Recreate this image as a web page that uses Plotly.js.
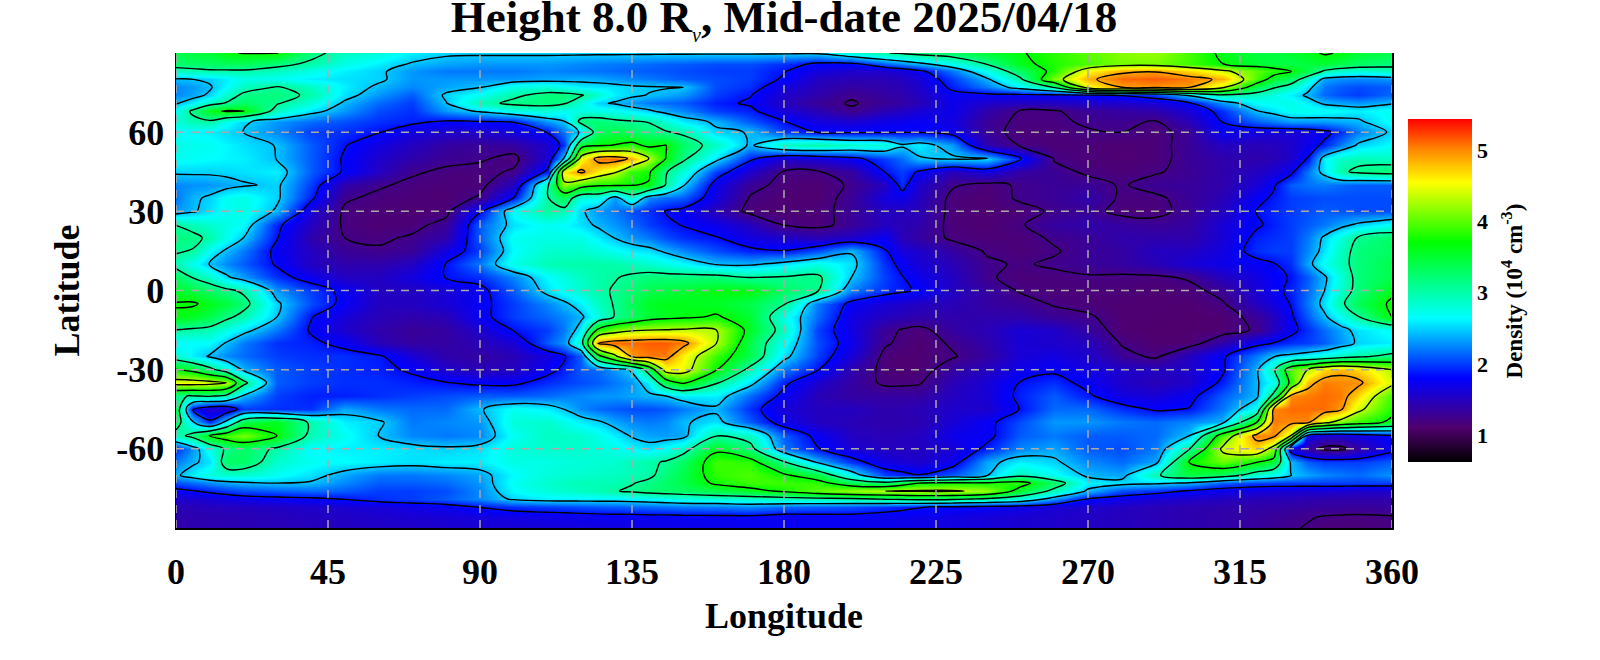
<!DOCTYPE html>
<html><head><meta charset="utf-8">
<script src="https://cdn.plot.ly/plotly-3.0.1.min.js"></script>
<style>html,body{margin:0;padding:0;background:#fff}#c{width:1600px;height:660px}</style></head>
<body><div id="c"></div>
<script>
const longitudes = [0,10,20,30,40,50,60,70,80,90,100,110,120,130,140,150,160,170,180,190,200,210,220,230,240,250,260,270,280,290,300,310,320,330,340,350,360];
const latitudes = [90,86,83,80,77,74,71,68,64,60,55,50,45,40,35,30,25,20,15,10,5,0,-5,-10,-15,-20,-25,-30,-35,-40,-45,-50,-55,-60,-65,-70,-73,-76,-79,-82,-86,-90];
const density = [
[3.4,3.5,3.7,3.7,3.2,2.9,2.8,2.6,2.5,2.5, 2.5,2.5,2.5,2.5,2.5,2.5,2.5,2.5,2.5,2.5, 2.8,3.05,3.2,3.3,3.5,3.65,3.85,4.0,4.15,4.2, 3.95,3.6,3.45,3.5,3.72,3.5,3.4],
[3.25,3.3,3.35,3.2,3.0,2.75,2.6,2.43,2.35,2.3, 2.3,2.3,2.25,2.2,2.15,2.1,2.05,2.05,1.95,1.8, 1.8,2.1,2.4,2.7,3.1,3.6,3.8,3.95,4.1,4.1, 3.9,3.68,3.5,3.4,3.5,3.3,3.2],
[2.9,3.0,3.0,2.9,2.75,2.6,2.5,2.3,2.2,2.2, 2.2,2.25,2.2,2.15,2.1,2.05,2.0,2.0,1.85,1.65, 1.55,1.55,1.75,2.2,2.7,3.3,3.8,4.55,4.85,4.9, 4.7,4.4,4.0,3.7,3.0,2.8,2.9],
[2.42,2.5,2.75,2.7,2.6,2.55,2.5,2.3,2.3,2.3, 2.3,2.35,2.38,2.3,2.2,2.1,2.05,2.0,1.8,1.5, 1.45,1.45,1.6,2.0,2.4,3.0,4.1,4.85,5.1,5.15, 5.05,4.85,3.95,3.3,2.35,2.25,2.3],
[2.25,2.42,2.9,3.1,2.9,2.6,2.4,2.25,2.35,2.44, 2.75,2.8,2.6,2.55,2.48,2.46,2.05,1.95,1.65,1.45, 1.35,1.4,1.55,1.9,2.2,2.6,3.1,4.5,4.92,4.95, 4.92,4.35,3.4,2.9,2.2,2.05,2.1],
[2.25,2.5,3.15,3.2,3.0,2.55,2.3,2.1,2.5,2.7, 3.0,3.2,3.1,2.6,2.44,2.3,2.0,1.85,1.55,1.4, 1.25,1.35,1.5,1.75,1.75,1.75,1.75,1.8,1.85,2.0, 2.5,3.0,2.9,2.6,2.15,2.0,2.15],
[2.42,2.9,3.3,3.1,2.8,2.4,2.15,2.0,2.44,2.95, 3.15,3.2,2.8,2.42,2.2,2.1,1.9,1.8,1.5,1.3, 1.2,1.3,1.45,1.7,1.55,1.5,1.5,1.55,1.55,1.6, 1.8,2.3,2.65,2.75,2.4,2.3,2.42],
[2.7,3.6,3.7,2.9,2.55,2.3,2.05,1.95,2.3,2.5, 2.75,2.8,2.75,2.7,2.5,2.25,2.0,1.9,1.6,1.45, 1.25,1.45,1.6,1.7,1.4,1.2,1.2,1.3,1.35,1.4, 1.6,1.95,2.44,2.7,2.7,2.6,2.7],
[2.8,3.0,2.5,2.3,2.15,2.05,1.95,1.9,1.8,1.82, 1.85,2.3,3.2,3.15,3.05,2.6,2.4,2.1,1.85,1.65, 1.6,1.7,1.75,1.65,1.3,1.18,1.18,1.25,1.27,1.2, 1.45,1.85,2.1,2.3,2.3,2.4,2.7],
[2.65,2.6,2.45,2.25,2.0,1.95,1.85,1.65,1.55,1.55, 1.65,1.85,2.5,3.4,3.2,3.0,2.5,2.44,2.0,1.82, 1.8,1.8,1.82,1.7,1.3,1.15,1.15,1.2,1.22,1.15, 1.3,1.75,1.65,1.6,1.75,2.2,2.5],
[2.75,2.7,2.55,2.44,2.1,1.85,1.65,1.5,1.35,1.3, 1.35,1.55,3.5,3.7,3.6,3.3,2.9,2.4,2.9,3.0, 2.85,2.8,2.6,2.3,1.4,1.2,1.15,1.15,1.12,1.15, 1.3,1.5,1.45,1.55,1.9,2.5,2.65],
[2.7,2.65,2.6,2.44,2.1,1.8,1.55,1.4,1.28,1.25, 1.15,1.6,4.5,5.1,4.3,3.15,2.55,1.9,1.55,1.6, 1.75,2.0,2.42,2.5,2.5,1.9,1.2,1.15,1.12,1.15, 1.3,1.4,1.4,1.55,2.6,2.95,2.9],
[2.5,2.5,2.55,2.6,2.1,1.8,1.5,1.25,1.18,1.15, 1.25,1.9,5.0,4.35,3.75,2.8,2.0,1.55,1.2,1.2, 1.35,1.85,1.8,1.45,1.65,1.35,1.3,1.18,1.15,1.2, 1.28,1.4,1.5,1.75,2.55,3.15,3.25],
[2.25,2.3,2.42,2.5,2.0,1.4,1.25,1.17,1.15,1.15, 1.5,3.0,3.9,3.75,3.65,2.5,1.7,1.3,1.15,1.12, 1.25,1.5,1.55,1.25,1.15,1.25,1.3,1.3,1.2,1.3, 1.32,1.4,1.6,2.1,2.2,2.1,2.1],
[2.2,2.5,2.75,2.5,1.9,1.25,1.17,1.15,1.12,1.25, 1.85,3.05,2.75,2.3,2.25,2.1,1.65,1.2,1.12,1.12, 1.3,1.65,1.5,1.15,1.12,1.25,1.3,1.4,1.18,1.18, 1.3,1.45,1.75,2.0,2.05,2.05,2.05],
[2.3,2.55,2.75,2.4,1.6,1.18,1.15,1.12,1.15,1.8, 2.7,3.05,2.5,2.2,1.95,1.75,1.45,1.15,1.12,1.15, 1.3,1.5,1.45,1.15,1.12,1.15,1.25,1.3,1.15,1.15, 1.3,1.5,1.85,2.0,2.1,2.05,2.05],
[3.06,2.85,2.65,1.9,1.5,1.18,1.13,1.15,1.3,2.1, 2.55,2.7,2.55,2.3,2.0,1.82,1.7,1.5,1.2,1.15, 1.3,1.5,1.4,1.15,1.12,1.2,1.35,1.4,1.35,1.3, 1.35,1.6,1.8,2.0,2.2,2.5,2.7],
[3.2,3.0,2.45,1.85,1.4,1.22,1.18,1.25,1.4,2.1, 2.7,2.75,2.75,2.44,2.2,1.95,1.85,1.65,1.55,1.45, 1.55,1.75,1.35,1.18,1.15,1.15,1.25,1.3,1.4,1.4, 1.4,1.6,1.9,2.0,2.5,3.1,3.3],
[3.1,2.65,2.2,1.75,1.5,1.3,1.25,1.3,1.65,2.0, 2.65,2.85,2.85,2.7,2.55,2.25,2.05,1.9,1.85,2.05, 2.42,1.85,1.55,1.35,1.2,1.15,1.2,1.3,1.35,1.5, 1.5,1.65,1.95,2.0,2.55,3.2,3.3],
[2.95,2.44,2.1,1.8,1.5,1.4,1.4,1.5,1.85,2.2, 2.75,2.95,3.0,3.0,2.85,2.65,2.42,2.4,2.55,2.75, 2.55,1.95,1.6,1.45,1.25,1.2,1.25,1.3,1.35,1.45, 1.6,1.7,1.75,1.95,2.7,3.2,3.4],
[3.3,2.85,2.3,1.95,1.7,1.5,1.5,1.65,1.85,1.95, 2.25,2.65,2.9,3.05,3.2,3.2,3.2,3.05,3.1,3.15, 2.45,2.0,1.7,1.5,1.25,1.15,1.17,1.2,1.18,1.18, 1.25,1.5,1.65,1.85,2.4,3.2,3.4],
[3.55,3.3,3.0,2.3,2.0,1.75,1.5,1.5,1.6,1.75, 2.1,2.55,2.85,3.1,3.4,3.5,3.65,3.65,3.3,3.1, 2.2,1.95,1.8,1.5,1.35,1.2,1.15,1.15,1.15,1.12, 1.15,1.3,1.6,1.9,2.45,3.2,3.6],
[3.7,3.6,3.2,2.5,2.05,1.75,1.5,1.5,1.6,1.75, 2.0,2.25,2.6,3.1,3.55,3.6,3.55,3.4,3.1,2.2, 1.75,1.6,1.5,1.45,1.35,1.3,1.2,1.15,1.12,1.12, 1.12,1.2,1.5,1.85,2.55,3.35,3.75],
[3.65,3.4,2.95,2.45,1.85,1.6,1.45,1.4,1.45,1.75, 2.0,2.15,2.4,3.1,3.5,3.62,3.72,3.5,2.75,2.15, 1.65,1.5,1.4,1.4,1.4,1.4,1.3,1.25,1.12,1.12, 1.1,1.12,1.3,1.78,2.4,3.05,3.7],
[3.05,2.95,2.55,2.2,1.8,1.55,1.4,1.3,1.35,1.55, 1.85,2.0,2.6,4.1,4.3,4.35,4.3,3.55,2.9,2.0, 1.65,1.3,1.15,1.35,1.45,1.6,1.55,1.35,1.12,1.1, 1.1,1.12,1.25,1.75,2.15,2.55,2.7],
[2.65,2.65,2.2,1.95,1.9,1.75,1.45,1.35,1.35,1.45, 1.6,2.1,2.9,5.1,5.15,5.05,4.3,3.4,2.7,2.05, 1.7,1.25,1.12,1.25,1.4,1.6,1.55,1.5,1.2,1.12, 1.12,1.4,1.75,1.95,2.1,2.5,2.6],
[2.85,2.42,2.15,2.0,1.95,1.95,1.88,1.6,1.4,1.35, 1.45,1.65,2.1,4.2,5.05,4.6,3.9,3.4,2.55,2.0, 1.6,1.15,1.12,1.2,1.35,1.6,1.65,1.55,1.3,1.18, 1.5,1.8,2.2,2.55,2.75,3.0,3.2],
[3.7,3.2,2.4,2.1,2.0,1.95,1.9,1.8,1.55,1.45, 1.5,1.75,2.1,2.3,3.3,4.5,3.7,2.95,2.2,1.85, 1.4,1.15,1.12,1.35,1.5,1.7,1.78,1.65,1.55,1.5, 1.55,1.8,2.4,4.0,4.7,4.7,4.3],
[4.5,4.45,3.2,2.1,2.0,1.95,1.95,1.9,1.85,1.78, 1.78,1.95,2.05,2.2,2.6,3.75,3.1,2.55,1.9,1.55, 1.35,1.18,1.2,1.45,1.6,1.85,1.95,1.75,1.55,1.45, 1.55,1.9,2.42,3.8,5.05,5.0,4.4],
[3.1,3.1,2.4,2.0,1.9,1.9,1.95,2.0,2.05,2.1, 2.1,2.15,2.25,2.3,2.4,2.6,2.6,2.15,1.75,1.45, 1.35,1.35,1.35,1.5,1.6,1.9,2.1,1.88,1.65,1.6, 1.75,2.1,2.4,5.0,5.1,4.7,3.9],
[3.4,1.55,2.0,1.95,1.95,2.35,2.2,2.15,2.15,2.42, 2.7,2.6,2.25,2.1,2.05,2.2,2.4,1.95,1.6,1.5, 1.5,1.4,1.45,1.55,1.55,1.85,2.15,2.15,1.95,1.8, 1.85,2.2,2.7,5.1,5.1,4.4,3.8],
[3.3,1.9,3.4,3.6,3.0,2.6,2.5,2.2,2.25,2.3, 2.8,2.85,2.6,2.35,2.2,2.42,2.55,2.1,1.7,1.5, 1.45,1.4,1.42,1.6,1.75,2.05,2.3,2.3,2.2,2.15, 2.25,2.4,3.7,5.0,4.4,3.9,3.6],
[2.9,3.7,4.1,3.68,2.95,2.7,2.45,2.25,2.2,2.25, 2.7,2.9,2.85,2.6,2.35,2.35,3.05,2.9,2.1,1.75, 1.5,1.45,1.5,1.7,1.75,2.1,2.2,2.1,2.1,2.15, 2.45,3.95,5.05,4.3,1.55,1.65,1.8],
[1.95,2.75,3.3,3.0,2.65,2.6,2.6,2.55,2.5,2.55, 2.8,2.85,2.85,2.75,2.55,2.9,3.6,3.2,2.2,1.85, 1.6,1.5,1.5,1.6,1.9,2.25,2.35,2.1,2.05,2.2, 3.05,4.4,4.7,1.6,1.15,1.35,1.75],
[2.2,2.55,3.3,2.85,2.7,2.65,2.6,2.55,2.6,2.6, 2.75,2.75,2.8,2.85,3.0,3.3,3.9,3.85,3.1,2.4, 1.95,1.65,1.55,1.7,2.35,2.6,2.5,2.25,2.15,2.35, 3.7,4.05,3.7,2.42,2.0,2.0,2.1],
[2.4,2.8,2.85,2.7,2.55,2.35,2.2,2.2,2.25,2.35, 2.65,2.8,2.85,2.9,3.0,3.4,3.85,3.95,3.75,3.4, 2.65,2.0,1.85,2.1,2.42,2.95,2.7,2.4,2.35,3.0, 3.45,3.3,2.85,2.46,2.25,2.15,2.3],
[2.05,2.25,2.4,2.45,2.42,2.25,2.1,2.1,2.15,2.3, 2.7,2.85,2.95,2.95,3.15,3.4,3.75,3.9,3.9,3.85, 3.4,3.2,3.7,3.75,3.75,3.85,3.3,2.6,2.55,2.5, 2.4,2.1,2.0,2.0,2.0,2.0,2.0],
[1.75,1.9,2.05,2.1,2.15,2.1,2.0,2.0,2.05,2.25, 2.65,2.8,2.9,3.05,3.2,3.3,3.4,3.55,3.75,4.0, 4.2,4.3,4.35,4.35,4.2,3.5,2.95,2.4,2.05,1.95, 1.8,1.7,1.65,1.6,1.6,1.55,1.55],
[1.55,1.6,1.7,1.75,1.78,1.85,1.95,2.0,2.1,2.25, 2.5,2.6,2.6,2.6,2.65,2.75,2.8,2.85,2.9,2.95, 3.0,3.1,3.2,3.15,3.0,2.8,2.3,1.82,1.7,1.6, 1.55,1.5,1.45,1.45,1.4,1.4,1.4],
[1.45,1.48,1.5,1.52,1.55,1.58,1.62,1.68,1.72,1.85, 1.95,2.0,2.05,2.1,2.15,2.2,2.2,2.25,2.15,2.1, 2.05,1.95,1.85,1.8,1.75,1.7,1.6,1.55,1.5,1.45, 1.42,1.4,1.38,1.35,1.33,1.32,1.33],
[1.4,1.42,1.44,1.47,1.5,1.52,1.55,1.58,1.6,1.63, 1.66,1.68,1.7,1.72,1.73,1.74,1.75,1.75,1.7,1.72, 1.74,1.72,1.7,1.66,1.62,1.58,1.55,1.52,1.48,1.45, 1.42,1.38,1.34,1.28,1.2,1.18,1.2],
[1.4,1.42,1.43,1.45,1.47,1.5,1.52,1.54,1.56,1.58, 1.6,1.62,1.64,1.66,1.68,1.7,1.7,1.72,1.75,1.74, 1.72,1.7,1.68,1.66,1.62,1.58,1.55,1.52,1.48,1.45, 1.42,1.38,1.32,1.25,1.15,1.15,1.2]
];
// extra columns read where the field changes quickly, same latitude order as above
const lon5 = [3.45,3.28,2.95,2.45,2.32,2.35,2.6,3.15,2.95,2.62, 2.72,2.68,2.5,2.28,2.4,2.42,2.95,3.15,3.05,2.7, 3.05,3.45,3.72,3.55,3.0,2.65,2.6,3.55,4.5,3.05, 1.8,2.5,3.2,2.3,2.4,2.6,2.15,1.82,1.57,1.46, 1.41,1.41];
const lon15 = [3.65,3.33,3.0,2.6,2.65,2.85,3.1,3.72,2.7,2.52, 2.62,2.62,2.52,2.35,2.7,2.7,2.75,2.7,2.4,2.25, 2.5,3.15,3.45,3.15,2.75,2.42,2.25,2.8,4.3,2.95, 1.55,2.6,3.95,3.15,3.3,2.85,2.35,1.98,1.65,1.49, 1.43,1.42];
const lon115 = [2.5,2.28,2.22,2.36,2.7,3.2,3.1,2.7,2.44,2.2, 1.95,2.5,4.6,4.2,3.35,2.95,2.65,2.75,2.85,2.98, 2.78,2.7,2.4,2.25,2.2,2.3,1.8,1.9,2.0,2.2, 2.45,2.75,2.88,2.85,2.78,2.82,2.9,2.85,2.6,2.02, 1.69,1.63];
const lon125 = [2.5,2.22,2.18,2.35,2.58,2.85,2.5,2.75,3.25,3.3, 3.65,5.05,4.6,3.75,2.75,2.3,2.4,2.6,2.78,3.0, 3.0,3.0,2.9,2.75,3.8,5.0,3.5,2.15,2.1,2.3, 2.15,2.5,2.75,2.8,2.82,2.88,2.95,2.95,2.6,2.08, 1.71,1.65];
const lon135 = [2.5,2.18,2.12,2.25,2.5,2.5,2.3,2.6,3.1,3.3, 3.8,4.85,3.85,3.7,2.85,2.05,2.15,2.3,2.6,2.92, 3.12,3.25,3.35,3.3,4.25,5.1,4.95,2.5,2.3,2.35, 2.05,2.25,2.42,2.65,2.92,2.95,3.05,3.12,2.62,2.12, 1.72,1.67];
const lon145 = [2.5,2.12,2.08,2.15,2.47,2.38,2.15,2.35,2.85,3.1, 3.7,3.68,3.1,3.05,2.15,1.82,1.9,2.05,2.4,2.75, 3.2,3.45,3.6,3.58,4.32,5.15,5.05,4.5,3.4,2.45, 2.1,2.25,2.32,2.7,3.1,3.2,3.3,3.25,2.7,2.17, 1.73,1.69];
const lon215 = [3.12,2.25,1.62,1.5,1.45,1.4,1.36,1.52,1.72,1.82, 2.5,2.15,2.0,1.95,1.7,1.48,1.45,1.45,1.62,1.75, 1.85,1.88,1.55,1.45,1.2,1.17,1.12,1.12,1.18,1.35, 1.42,1.41,1.47,1.5,1.6,1.92,3.45,4.33,3.15,1.9, 1.71,1.69];
const lon325 = [3.45,3.45,3.85,3.5,3.1,2.75,2.7,2.55,2.2,1.62, 1.48,1.45,1.6,1.8,1.88,1.93,1.9,1.95,2.0,1.82, 1.78,1.75,1.65,1.5,1.5,1.85,2.44,3.0,2.7,3.2, 5.0,5.05,5.0,4.1,3.5,2.7,2.0,1.6,1.45,1.37, 1.31,1.28];
const lon335 = [3.6,3.45,3.4,2.85,2.55,2.4,2.6,2.72,2.3,1.65, 1.7,1.85,2.2,2.18,2.02,2.05,2.1,2.2,2.25,2.35, 2.1,2.15,2.2,2.1,1.95,2.0,2.65,4.3,4.8,5.05, 5.1,5.0,1.7,1.35,2.1,2.35,2.0,1.58,1.42,1.34, 1.24,1.2];
const lon345 = [3.65,3.4,2.85,2.28,2.1,2.05,2.35,2.65,2.35,1.95, 2.2,2.9,3.0,2.15,2.05,2.08,2.35,2.8,2.9,2.95, 2.8,2.85,3.0,2.7,2.35,2.3,2.9,4.85,5.0,5.05, 4.95,4.1,1.55,1.15,2.0,2.2,2.0,1.58,1.4,1.32, 1.19,1.15];
const extraColumns = [[5,lon5],[15,lon15],[115,lon115],[125,lon125],[135,lon135],[145,lon145],[215,lon215],[325,lon325],[335,lon335],[345,lon345]];
const lonTicks = [0,45,90,135,180,225,270,315,360];
const latTicks = [-60,-30,0,30,60];
const barTicks = [1,2,3,4,5];
const zMin = 0.62, zMax = 5.44;
const rainbow = [[0,'#000000'],[0.10,'#50006e'],[0.245,'#0000ff'],[0.42,'#00ffff'],[0.64,'#00ff00'],[0.815,'#ffff00'],[0.91,'#ff8800'],[1,'#ff0000']];
const serif = '"Liberation Serif", serif';

const columns = longitudes.map((lon,i) => [lon, density.map(r => r[i])]).concat(extraColumns).sort((a,b) => a[0]-b[0]);
const x = columns.map(c => c[0]);
const y = latitudes.slice().reverse();
const z = latitudes.map((_,j) => columns.map(c => c[1][j])).reverse();

const grid = [];
const gridLine = {color:'#aaaaaa',width:1.5,dash:'8px,7px'};
lonTicks.forEach(v => grid.push({type:'line',xref:'x',yref:'paper',x0:v,x1:v,y0:0,y1:1,layer:'above',line:gridLine}));
latTicks.forEach(v => grid.push({type:'line',xref:'paper',yref:'y',x0:0,x1:1,y0:v,y1:v,layer:'above',line:gridLine}));

const traces = [
 {type:'heatmap',x:x,y:y,z:z,zmin:zMin,zmax:zMax,zsmooth:'best',colorscale:rainbow,hoverinfo:'skip',
  colorbar:{x:(1408-175.5)/1216.5,xanchor:'left',xpad:0,y:(528-462)/475,yanchor:'bottom',ypad:0,len:343,lenmode:'pixels',thickness:64,thicknessmode:'pixels',
   outlinewidth:0,ticks:'',tickvals:barTicks,ticktext:barTicks.map(String),tickfont:{family:serif,size:22,color:'#000',weight:'bold'}}},
 {type:'contour',x:x,y:y,z:z,showscale:false,hoverinfo:'skip',autocontour:false,
  contours:{start:1.22,end:4.92,size:0.616,coloring:'none'},line:{color:'#000',width:1.4,smoothing:1}}
];
const layout = {
 width:1600,height:660,paper_bgcolor:'#fff',plot_bgcolor:'#fff',showlegend:false,
 margin:{l:175.5,r:208,t:53,b:132},
 font:{family:serif,color:'#000'},
 title:{text:'<b>Height 8.0 R</b><sub><span style="font-size:20px;font-style:italic">ν</span></sub><b>, Mid-date 2025/04/18</b>',font:{family:serif,size:45,color:'#000'},x:0.49,xanchor:'center',y:0.975,yanchor:'middle'},
 xaxis:{range:[0,360],tickvals:lonTicks,ticktext:lonTicks.map(String),ticks:'',showgrid:false,zeroline:false,showline:true,linecolor:'#000',linewidth:1.5,mirror:false,ticklabelstandoff:11,
   tickfont:{family:serif,size:36,color:'#000',weight:'bold'},title:{text:'<b>Longitude</b>',font:{family:serif,size:36,color:'#000'},standoff:12}},
 yaxis:{range:[-90,90],tickvals:latTicks,ticktext:latTicks.map(String),ticks:'',showgrid:false,zeroline:false,showline:true,linecolor:'#000',linewidth:1.5,mirror:true,ticklabelstandoff:3,
   tickfont:{family:serif,size:36,color:'#000',weight:'bold'},title:{text:'<b>Latitude</b>',font:{family:serif,size:36,color:'#000'},standoff:25}},
 annotations:[{text:'<b>Density (10<sup>4</sup> cm<sup>-3</sup>)</b>',textangle:-90,showarrow:false,xref:'paper',yref:'paper',x:(1513-175.5)/1216.5,y:(528-290.5)/475,xanchor:'center',yanchor:'middle',font:{family:serif,size:23,color:'#000'}}],
 shapes:grid
};
Plotly.newPlot('c',traces,layout,{displayModeBar:false,staticPlot:true});
</script></body></html>
